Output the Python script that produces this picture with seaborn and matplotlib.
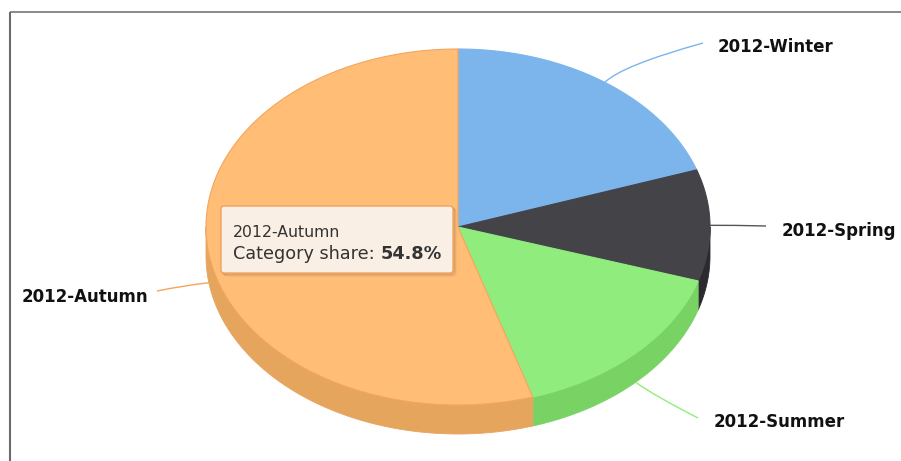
import numpy as np
import matplotlib
matplotlib.use("Agg")
import matplotlib.pyplot as plt
from matplotlib.patches import Polygon, FancyBboxPatch, PathPatch
from matplotlib.path import Path
import seaborn as sns

# ---- data -------------------------------------------------------------
seasons = ["2012-Winter", "2012-Spring", "2012-Summer", "2012-Autumn"]
share = [19.8, 10.1, 15.3, 54.8]
highlighted = "2012-Autumn"

# ---- style ------------------------------------------------------------
sns.set_theme(style="white")
plt.rcParams["font.family"] = ["DejaVu Sans"]

top_colors = sns.color_palette(["#7cb5ec", "#434348", "#90ed7d", "#ffbd76"])
side_colors = sns.color_palette(["#6a9fd4", "#2a2a2f", "#78d364", "#e6a55d"])
edge_colors = ["#7cb5ec", "#434348", "#90ed7d", "#f4a45e"]

W, H = 901, 461
fig = plt.figure(figsize=(W / 100, H / 100), dpi=100)
ax = fig.add_axes([0, 0, 1, 1])
ax.set_xlim(0, W)
ax.set_ylim(H, 0)
ax.axis("off")

# chart frame (top and left edges)
ax.plot([10, W], [12, 12], color="#6b6b6b", lw=1.1, solid_capstyle="butt")
ax.plot([10, 10], [12, H], color="#6b6b6b", lw=1.5, solid_capstyle="butt")

# ---- pie geometry -----------------------------------------------------
cx, cy = 458.0, 227.0      # centre of the top face
rx, ry = 252.0, 178.0      # ellipse radii of the tilted top face
depth = 29.0               # thickness of the disc


def pt(theta, dy=0.0):
    t = np.radians(theta)
    return cx + rx * np.sin(t), cy - ry * np.cos(t) + dy


fractions = np.array(share) / np.sum(share)
ends = np.cumsum(fractions) * 360.0
starts = ends - fractions * 360.0

# outer walls (only the front half of the disc is visible)
for a1, a2, sc in zip(starts, ends, side_colors):
    lo, hi = max(a1, 90.0), min(a2, 270.0)
    if hi <= lo:
        continue
    th = np.linspace(lo, hi, 120)
    top = [pt(t) for t in th]
    bot = [pt(t, depth) for t in th[::-1]]
    ax.add_patch(Polygon(top + bot, closed=True, facecolor=sc,
                         edgecolor=sc, lw=0.6, zorder=2))

# top faces
for a1, a2, tc, ec in zip(starts, ends, top_colors, edge_colors):
    th = np.linspace(a1, a2, 240)
    verts = [(cx, cy)] + [pt(t) for t in th]
    ax.add_patch(Polygon(verts, closed=True, facecolor=tc,
                         edgecolor=ec, lw=0.8, zorder=3))

# ---- data labels with connectors --------------------------------------
label_layout = {
    "2012-Winter": dict(end=(703, 43), text=(718, 47), ha="left"),
    "2012-Spring": dict(end=(766, 226), text=(782, 231), ha="left"),
    "2012-Summer": dict(end=(698, 418), text=(714, 422), ha="left"),
    "2012-Autumn": dict(end=(157, 291), text=(148, 297), ha="right"),
}

for name, a1, a2, tc, ec in zip(seasons, starts, ends, top_colors, edge_colors):
    mid = (a1 + a2) / 2.0
    t = np.radians(mid)
    dy = depth if np.cos(t) < 0 else 0.0
    ax_, ay_ = pt(mid, dy)
    # radial direction on screen for the curve's control point
    dx_r, dy_r = np.sin(t) * rx, -np.cos(t) * ry
    n = np.hypot(dx_r, dy_r)
    ctrl = (ax_ + dx_r / n * 24, ay_ + dy_r / n * 24)
    lay = label_layout[name]
    path = Path([(ax_, ay_), ctrl, lay["end"]],
                [Path.MOVETO, Path.CURVE3, Path.CURVE3])
    line_col = "#555555" if name == "2012-Spring" else ec
    ax.add_patch(PathPatch(path, facecolor="none", edgecolor=line_col,
                           lw=1.0, zorder=4))
    ax.text(*lay["text"], name, ha=lay["ha"], va="center",
            fontsize=12, fontweight="bold", color="#111111", zorder=5)

# ---- tooltip ----------------------------------------------------------
hi_idx = seasons.index(highlighted)
bx, by, bw, bh = 221, 206, 232, 67
for k, a in zip((3, 2, 1), (0.05, 0.08, 0.12)):
    ax.add_patch(FancyBboxPatch((bx + k, by + k), bw, bh,
                                boxstyle="round,pad=0,rounding_size=3",
                                facecolor="none", edgecolor="black",
                                alpha=a, lw=1.0, zorder=6))
ax.add_patch(FancyBboxPatch((bx, by), bw, bh,
                            boxstyle="round,pad=0,rounding_size=3",
                            facecolor="#f9efe5", edgecolor="#f0a35e",
                            lw=1.0, zorder=7))
ax.text(bx + 12, by + 26, seasons[hi_idx], ha="left", va="center",
        fontsize=11.3, color="#333333", zorder=8)
t1 = ax.text(bx + 12, by + 48, "Category share: ", ha="left", va="center",
             fontsize=12.7, color="#333333", zorder=8)
fig.canvas.draw()
bb = t1.get_window_extent()
x_end = ax.transData.inverted().transform((bb.x1, bb.y0))[0]
ax.text(x_end, by + 48, f"{share[hi_idx]:.1f}%", ha="left", va="center",
        fontsize=12.7, fontweight="bold", color="#333333", zorder=8)

fig.savefig("out.png", dpi=100)
